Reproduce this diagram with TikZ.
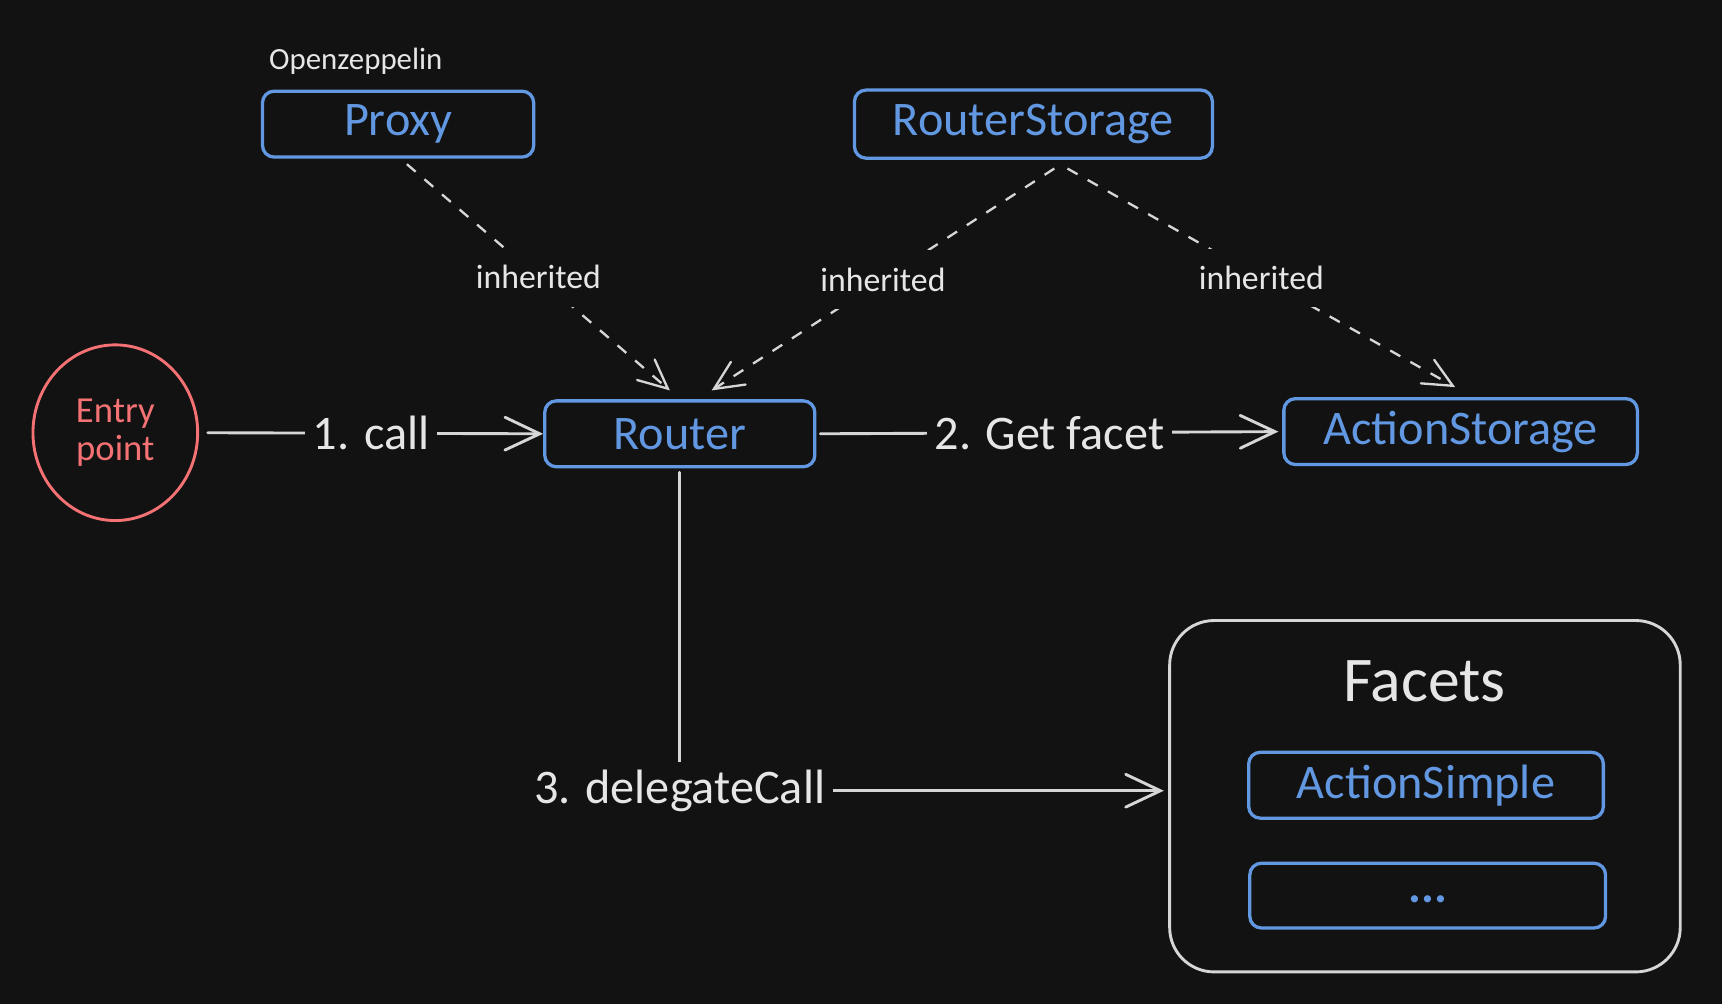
\documentclass[tikz,border=0pt]{standalone}
\usepackage{fontspec}
\setmainfont{Carlito}
\usetikzlibrary{arrows.meta,shapes.geometric,calc}
\definecolor{bg}{HTML}{121212}
\definecolor{bluec}{RGB}{98,152,226}
\definecolor{redc}{RGB}{244,113,116}
\definecolor{linec}{RGB}{214,214,214}
\definecolor{textc}{RGB}{230,230,230}
\tikzset{
  classbox/.style={draw=bluec, line width=1.7pt, rounded corners=6pt, fill=bg,
    text=bluec, font=\fontsize{25}{30}\selectfont, minimum height=1.2cm, inner sep=0pt},
  solidarrow/.style={draw=linec, line width=1.5pt, line cap=round,
    -{Straight Barb[length=18pt,width=17pt,line cap=round]}},
  dasharrow/.style={draw=linec, line width=1.2pt, dash pattern=on 6pt off 6pt,
    -{Straight Barb[length=15pt,width=14pt,line cap=round]}},
  edgelabel/.style={fill=bg, text=textc, font=\fontsize{25}{30}\selectfont, inner sep=4pt},
  inhlabel/.style={fill=bg, text=textc, font=\fontsize{17.5}{20}\selectfont, inner xsep=3pt, inner ysep=9pt},
}
\begin{document}
\begin{tikzpicture}[x=0.02cm,y=-0.02cm]
\fill[bg] (0,0) rectangle (1568,914);
\useasboundingbox (0,0) rectangle (1568,914);

\node[text=textc, font=\fontsize{16}{18}\selectfont] (oz) at (324,56) {Openzeppelin};
\node[classbox, minimum width=4.94cm] (proxy) at (362.5,113) {Proxy};
\node[classbox, minimum width=6.52cm, minimum height=1.24cm] (rstore) at (941,113) {RouterStorage};
\node[classbox, minimum width=4.92cm] (router) at (619,395) {Router};
\node[classbox, minimum width=6.44cm] (astore) at (1330,393) {ActionStorage};

\node[ellipse, draw=redc, line width=1.5pt, minimum width=3.0cm, minimum height=3.2cm,
  text=redc, align=center, font=\fontsize{19}{19.5}\selectfont, inner sep=0pt] (entry) at (105,394) {Entry\\point};

\node[draw=linec, line width=1.5pt, rounded corners=23pt, minimum width=9.3cm, minimum height=6.4cm] (facets) at (1297.5,725) {};
\node[text=textc, font=\fontsize{33}{36}\selectfont] (ftitle) at (1297,620) {Facets};
\node[classbox, minimum width=6.46cm] (asimple) at (1298.5,715) {ActionSimple};
\node[classbox, minimum width=6.48cm, minimum height=1.18cm] (dots) at (1300,815.5) {\raisebox{-0.6ex}{\bfseries ...}};

% solid flows
\draw[solidarrow, shorten <=4.5pt] (entry.east) -- node[edgelabel] {1. call} (router.west);
\draw[solidarrow, shorten <=2pt, shorten >=2pt] (router.east) -- node[edgelabel] {2. Get facet} (astore.west);
\coordinate (fin) at ($(facets.west)+(-4,-5)$);
\draw[solidarrow, shorten <=2pt] (router.south) |- node[edgelabel, pos=0.5] {3. delegateCall} (fin);

% inheritance
\coordinate (p1) at ($(proxy.south)+(8,5)$);
\coordinate (r1) at ($(router.north)+(-9,-8)$);
\coordinate (s1) at ($(rstore.south)+(19,8)$);
\coordinate (r2) at ($(router.north)+(29,-8)$);
\coordinate (s2) at ($(rstore.south)+(31,8)$);
\coordinate (a1) at ($(astore.north)+(-5,-9)$);
\draw[dasharrow] (p1) -- node[inhlabel] {inherited} (r1);
\draw[dasharrow] (s1) -- node[inhlabel] {inherited} (r2);
\draw[dasharrow] (s2) -- node[inhlabel] {inherited} (a1);
\end{tikzpicture}
\end{document}
